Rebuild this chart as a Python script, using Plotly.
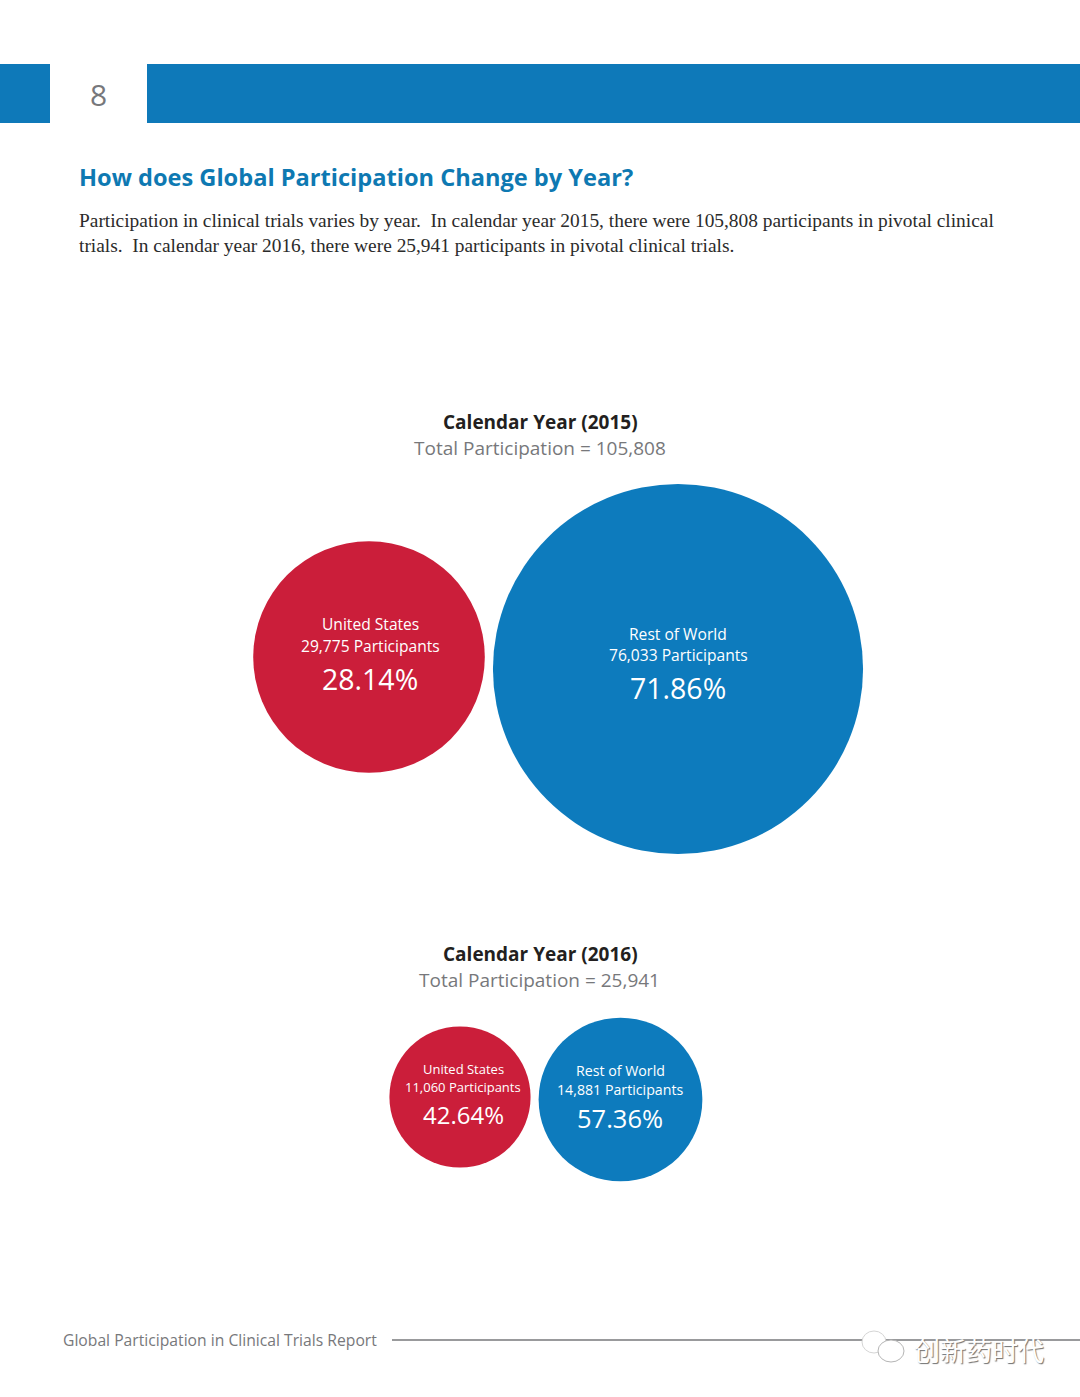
import plotly.graph_objects as go

BLUE = "#0d7bbd"
RED = "#cb1e3a"
HEAD = "#0e79b9"

regions_2015 = ["United States", "Rest of World"]
participants_2015 = [29775, 76033]
shares_2015 = ["28.14%", "71.86%"]
regions_2016 = ["United States", "Rest of World"]
participants_2016 = [11060, 14881]
shares_2016 = ["42.64%", "57.36%"]
totals = ["105,808", "25,941"]
years = ["2015", "2016"]

centers_x_2015, centers_y_2015 = [369, 678], [657, 669]
centers_x_2016, centers_y_2016 = [460, 620.5], [1097, 1099.5]

page_title = "How does Global Participation Change by Year?"
intro_1 = "Participation in clinical trials varies by year.  In calendar year 2015, there were 105,808 participants in pivotal clinical"
intro_2 = "trials.  In calendar year 2016, there were 25,941 participants in pivotal clinical trials."
footer = "Global Participation in Clinical Trials Report"
watermark = "创新药时代"

SANS = "Open Sans"
SERIF = "Liberation Serif"

fig = go.Figure()
SIZEREF = 1.11
for xs, ys, vals in [(centers_x_2015, centers_y_2015, participants_2015),
                     (centers_x_2016, centers_y_2016, participants_2016)]:
    fig.add_trace(go.Scatter(
        x=xs, y=ys, mode="markers", hoverinfo="skip", showlegend=False,
        marker=dict(size=vals, sizemode="area", sizeref=SIZEREF, color=[RED, BLUE], line=dict(width=0), opacity=1),
    ))

def label(x, y, text, size, color="#ffffff", anchor="center", family=SANS, shadow=None):
    font = dict(family=family, size=size, color=color)
    if shadow:
        font["shadow"] = shadow
    fig.add_annotation(x=x, y=y, text=text, showarrow=False, xref="x", yref="y",
                       xanchor=anchor, yanchor="middle", font=font)

# header
fig.add_shape(type="rect", x0=0, x1=50, y0=64, y1=123, fillcolor=HEAD, line_width=0, layer="below")
fig.add_shape(type="rect", x0=147, x1=1080, y0=64, y1=123, fillcolor=HEAD, line_width=0, layer="below")
label(98, 94, "8", 30, "#77787b")
label(77, 177, f"<b>{page_title}</b>", 23.6, "#0e79b2", "left")
label(77, 220, intro_1, 19.4, "#2b2b2b", "left", SERIF)
label(77, 245, intro_2, 19.4, "#2b2b2b", "left", SERIF)

# 2015
label(540, 422, f"<b>Calendar Year ({years[0]})</b>", 19, "#231f20")
label(540, 448, f"Total Participation = {totals[0]}", 19, "#77787b")
# 2016
label(540, 954, f"<b>Calendar Year ({years[1]})</b>", 19, "#231f20")
label(539, 980, f"Total Participation = {totals[1]}", 19, "#77787b")

label(370, 624, regions_2015[0], 15.6)
label(370, 646, f"{participants_2015[0]:,} Participants", 15.6)
label(370, 679, shares_2015[0], 28.5)
label(678, 634, regions_2015[1], 15.6)
label(678, 655, f"{participants_2015[1]:,} Participants", 15.6)
label(678, 688, shares_2015[1], 28.5)

label(463, 1069, regions_2016[0], 13)
label(463, 1087, f"{participants_2016[0]:,} Participants", 13)
label(463, 1114, shares_2016[0], 24)
label(620, 1070, regions_2016[1], 14.2)
label(620, 1089, f"{participants_2016[1]:,} Participants", 14.2)
label(620, 1118, shares_2016[1], 25.5)

# footer
fig.add_shape(type="line", x0=392, x1=1080, y0=1340, y1=1340, line=dict(color="#77787b", width=1.5))
label(60.5, 1340, footer, 15.7, "#77787b", "left")
# watermark
fig.add_shape(type="circle", x0=862, y0=1331, x1=886, y1=1353, line=dict(color="#d5d5d5", width=1), fillcolor="#ffffff")
fig.add_shape(type="circle", x0=878, y0=1340, x1=904, y1=1362, line=dict(color="#b5b5b5", width=1), fillcolor="#ffffff")
label(979, 1349, watermark, 26, "#ffffff", "center", "Noto Sans CJK SC", shadow="1px 1px 1px #6f6f6f")
fig.update_layout(
    width=1080, height=1397, margin=dict(l=0, r=0, t=0, b=0),
    paper_bgcolor="#ffffff", plot_bgcolor="#ffffff", showlegend=False,
    xaxis=dict(range=[0, 1080], visible=False, fixedrange=True),
    yaxis=dict(range=[1397, 0], visible=False, fixedrange=True),
)
fig.write_html("out.html", config={"displayModeBar": False},
               post_script="document.body.style.margin='0';document.body.style.overflow='hidden';")
